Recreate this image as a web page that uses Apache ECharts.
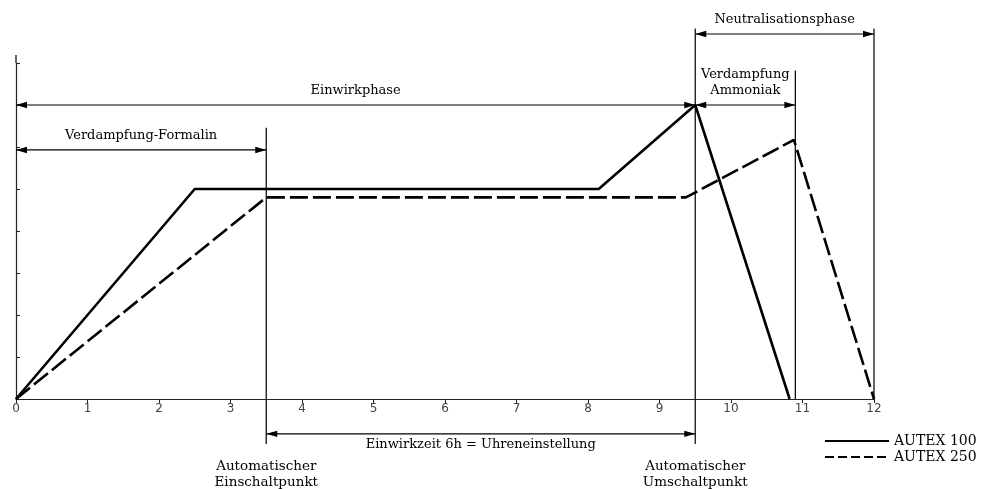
<!DOCTYPE html>
<html>
<head>
<meta charset="utf-8">
<script src="https://cdn.jsdelivr.net/npm/echarts@6/dist/echarts.min.js"></script>
<style>html,body{margin:0;padding:0;background:#fff}#c{width:986px;height:489px}</style>
</head>
<body>
<div id="c"></div>
<script>
// ---- data ----
const xTicks = [0, 1, 2, 3, 4, 5, 6, 7, 8, 9, 10, 11, 12];
const seriesNames = ['AUTEX 100', 'AUTEX 250'];
const autex100 = [[0, 0], [2.5, 5], [8.15, 5], [9.5, 7], [10.82, 0]];
const autex250 = [[0, 0], [3.5, 4.8], [9.37, 4.8], [10.88, 6.17], [12, 0]];
// vertical lines: [x, yFrom, yTo] (phase boundaries + top of y axis)
const markerLines = [[3.5, -1.07, 6.46], [9.5, -1.07, 8.82], [10.9, 0, 7.82], [12, 0, 8.82], [0, 8, 8.19]];
// double arrows: [xFrom, xTo, level]
const arrowSpans = [[0, 9.5, 7.0], [0, 3.5, 5.93], [9.5, 12, 8.69], [9.5, 10.9, 7.0], [3.5, 9.5, -0.83]];
const arrowLabels = ['Einwirkphase', 'Verdampfung-Formalin', 'Neutralisationsphase', 'Verdampfung\nAmmoniak', 'Einwirkzeit 6h = Uhreneinstellung'];
const arrowLabelSide = ['above', 'above', 'above', 'above', 'below'];
// switch point captions: [x, level]
const switchPoints = [[3.5, -1.8], [9.5, -1.8]];
const switchLabels = ['Automatischer\nEinschaltpunkt', 'Automatischer\nUmschaltpunkt'];

const SERIF = '"DejaVu Serif", "Liberation Serif", serif';
const chart = echarts.init(document.getElementById('c'), null, {renderer: 'canvas'});

function arrowHead(tipX, y, dir) {
  const L = 11, H = 3.2;
  return {
    type: 'polygon',
    shape: {points: [[tipX, y], [tipX + dir * L, y - H], [tipX + dir * L, y + H]]},
    style: {fill: '#000'}
  };
}

chart.setOption({
  animation: false,
  backgroundColor: '#fff',
  grid: {left: 16, right: 112, top: 63, bottom: 90, containLabel: false},
  xAxis: {
    type: 'value', min: 0, max: 12, interval: 1,
    axisLine: {show: true, onZero: false, lineStyle: {color: '#222', width: 1.2}},
    axisTick: {show: true, length: 4, lineStyle: {color: '#222'}},
    axisLabel: {color: '#444', fontFamily: '"DejaVu Sans", sans-serif', fontSize: 12, margin: 4,
      formatter: v => xTicks.indexOf(v) >= 0 ? String(v) : ''},
    splitLine: {show: false}
  },
  yAxis: {
    type: 'value', min: 0, max: 8, interval: 1,
    axisLine: {show: true, lineStyle: {color: '#222', width: 1.2}},
    axisTick: {show: true, inside: true, length: 4, lineStyle: {color: '#222'}},
    axisLabel: {show: false},
    splitLine: {show: false}
  },
  legend: {
    orient: 'vertical', left: 824, top: 434, padding: 0, itemGap: 2,
    itemWidth: 64, itemHeight: 12,
    textStyle: {fontFamily: SERIF, fontSize: 14, color: '#000'},
    data: [
      {name: seriesNames[0], itemStyle: {opacity: 0}, lineStyle: {width: 2}},
      {name: seriesNames[1], itemStyle: {opacity: 0}, lineStyle: {width: 2, type: [9, 4]}}
    ]
  },
  series: [
    {
      name: seriesNames[0], type: 'line', data: autex100, symbol: 'none', clip: false,
      lineStyle: {color: '#000', width: 2.6}, itemStyle: {color: '#000'}, z: 5
    },
    {
      name: seriesNames[1], type: 'line', data: autex250, symbol: 'none', clip: false,
      lineStyle: {color: '#000', width: 2.6, type: [18, 5]}, itemStyle: {color: '#000'}, z: 5
    },
    {
      type: 'custom', name: 'boundaries', clip: false, silent: true,
      data: markerLines,
      encode: {x: 0, y: [1, 2]},
      renderItem: function (params, api) {
        const a = api.coord([api.value(0), api.value(1)]);
        const b = api.coord([api.value(0), api.value(2)]);
        return {type: 'line', shape: {x1: a[0], y1: a[1], x2: b[0], y2: b[1]},
          style: {stroke: '#111', lineWidth: 1.3}};
      }
    },
    {
      type: 'custom', name: 'arrows', clip: false, silent: true,
      data: arrowSpans,
      encode: {x: [0, 1], y: 2},
      renderItem: function (params, api) {
        const i = params.dataIndex;
        const a = api.coord([api.value(0), api.value(2)]);
        const b = api.coord([api.value(1), api.value(2)]);
        const above = arrowLabelSide[i] === 'above';
        return {
          type: 'group',
          children: [
            {type: 'line', shape: {x1: a[0], y1: a[1], x2: b[0], y2: b[1]}, style: {stroke: '#000', lineWidth: 1.2}},
            arrowHead(a[0], a[1], 1),
            arrowHead(b[0], b[1], -1),
            {type: 'text', style: {
              text: arrowLabels[i], x: (a[0] + b[0]) / 2, y: above ? a[1] - 6 : a[1] + 3,
              align: 'center', verticalAlign: above ? 'bottom' : 'top',
              font: '13px ' + SERIF, fill: '#000', lineHeight: 16
            }}
          ]
        };
      }
    },
    {
      type: 'custom', name: 'switches', clip: false, silent: true,
      data: switchPoints,
      encode: {x: 0, y: 1},
      renderItem: function (params, api) {
        const p = api.coord([api.value(0), api.value(1)]);
        return {type: 'text', style: {
          text: switchLabels[params.dataIndex], x: p[0], y: p[1],
          align: 'center', verticalAlign: 'middle',
          font: '13.5px ' + SERIF, fill: '#000', lineHeight: 16
        }};
      }
    }
  ]
});
</script>
</body>
</html>
